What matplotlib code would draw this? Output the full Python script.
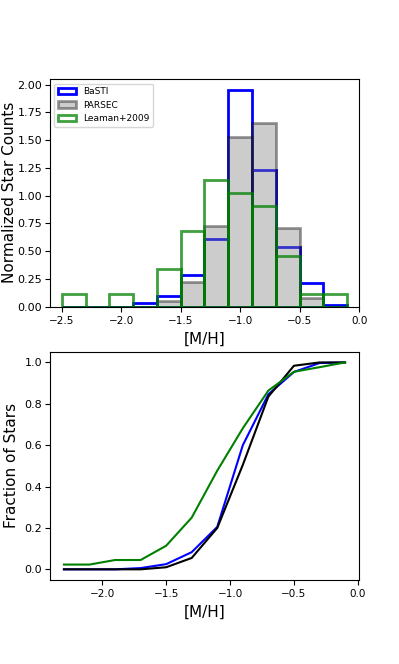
import numpy as np
from matplotlib import pyplot as plt

# bin edges of the metallicity histogram
edges = [-2.5, -2.3, -2.1, -1.9, -1.7, -1.5, -1.3, -1.1, -0.9, -0.7, -0.5, -0.3, -0.1]

# normalized counts per bin
basti = [0.0, 0.0, 0.0, 0.033, 0.095, 0.287, 0.61, 1.952, 1.231, 0.54, 0.21, 0.015]
parsec = [0.0, 0.0, 0.0, 0.0, 0.05, 0.225, 0.727, 1.526, 1.652, 0.706, 0.081, 0.0]
leaman = [0.114, 0.0, 0.114, 0.0, 0.341, 0.682, 1.136, 1.023, 0.909, 0.455, 0.114, 0.114]

# cumulative fractions at the right bin edges
cdf_x = [-2.3, -2.1, -1.9, -1.7, -1.5, -1.3, -1.1, -0.9, -0.7, -0.5, -0.3, -0.1]
cdf_basti = [0.0, 0.0, 0.0, 0.006, 0.025, 0.083, 0.205, 0.6, 0.846, 0.954, 0.997, 1.0]
cdf_parsec = [0.0, 0.0, 0.0, 0.0, 0.01, 0.055, 0.2, 0.505, 0.835, 0.984, 1.0, 1.0]
cdf_leaman = [0.023, 0.023, 0.045, 0.045, 0.114, 0.25, 0.477, 0.682, 0.864, 0.955, 0.977, 1.0]

left = np.array(edges[:-1])
width = np.diff(edges)

fig, (ax1, ax2) = plt.subplots(2, 1, figsize=(3.99, 6.64), dpi=100)
fig.subplots_adjust(left=0.125, right=0.9, top=0.881, bottom=0.127, hspace=0.2)

ax1.bar(left, basti, width=width, align='edge', fill=False, edgecolor='blue', lw=2, label='BaSTI')
ax1.bar(left, parsec, width=width, align='edge', facecolor='gray', edgecolor='k', alpha=0.4, lw=2, label='PARSEC')
ax1.bar(left, leaman, width=width, align='edge', fill=False, edgecolor='green', alpha=0.75, lw=2, label='Leaman+2009')
ax1.set_xlim(-2.6, 0)
ax1.set_xticks([-2.5, -2.0, -1.5, -1.0, -0.5, 0.0])
ax1.set_xlabel('[M/H]', fontsize=11)
ax1.set_ylabel('Normalized Star Counts', fontsize=11, labelpad=0)
ax1.tick_params(axis='x', labelsize=7.5)
ax1.tick_params(axis='y', labelsize=8, pad=2)
ax1.legend(loc='upper left', fontsize=6.5)

ax2.plot(cdf_x, cdf_basti, color='blue', lw=1.5)
ax2.plot(cdf_x, cdf_parsec, color='black', lw=1.5)
ax2.plot(cdf_x, cdf_leaman, color='green', lw=1.5)
ax2.set_xticks([-2.0, -1.5, -1.0, -0.5, 0.0])
ax2.set_xlabel('[M/H]', fontsize=11)
ax2.set_ylabel('Fraction of Stars', fontsize=11, labelpad=4)
ax2.tick_params(axis='x', labelsize=7.5)
ax2.tick_params(axis='y', labelsize=8, pad=2)

plt.savefig('out.png')
